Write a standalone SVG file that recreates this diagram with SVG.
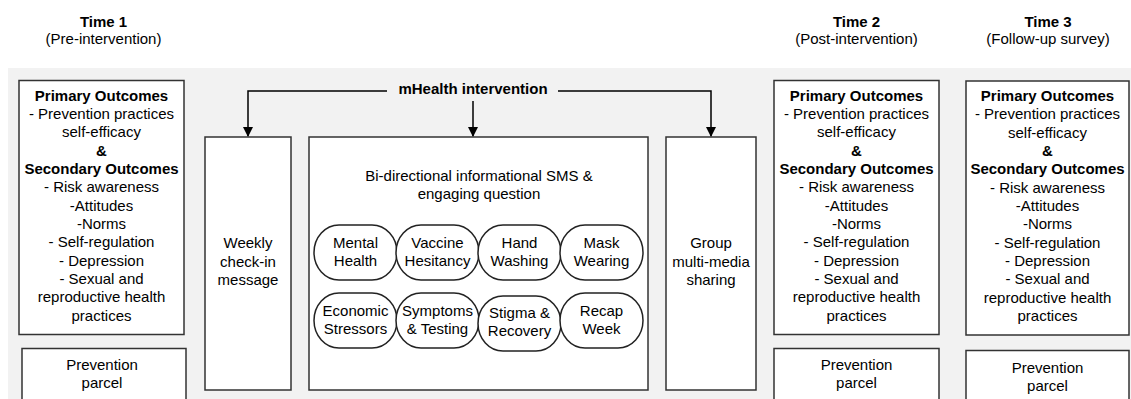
<svg xmlns="http://www.w3.org/2000/svg" width="1131" height="399" viewBox="0 0 1131 399">
<style>
text{font-family:"Liberation Sans",Arial,sans-serif;font-size:15px;fill:#000;text-anchor:middle}
.b{font-weight:bold}
.box{fill:#fff;stroke:#333;stroke-width:1.5}
.pill{fill:#fff;stroke:#222;stroke-width:1.5}
.conn{fill:none;stroke:#000;stroke-width:1.5}
</style>
<defs>
<marker id="ah" markerWidth="10" markerHeight="13" refX="9" refY="6.5" orient="auto" markerUnits="userSpaceOnUse"><path d="M0,1.5 L10,6.5 L0,11.5 Z" fill="#000"/></marker>
</defs>
<rect x="8" y="68" width="1123" height="331" fill="#f2f2f2"/>

<g id="header1"><text class="b" x="103.5" y="27">Time 1</text><text x="103.5" y="44">(Pre-intervention)</text></g>
<g id="header2"><text class="b" x="856.5" y="27">Time 2</text><text x="856.5" y="44">(Post-intervention)</text></g>
<g id="header3"><text class="b" x="1048" y="27">Time 3</text><text x="1048" y="44">(Follow-up survey)</text></g>

<g id="outcomes1">
<rect class="box" x="19" y="80.5" width="165" height="254"/>
<text class="b" x="101.5" y="100.5">Primary Outcomes</text>
<text x="101.5" y="118.8">- Prevention practices</text>
<text x="101.5" y="137.2">self-efficacy</text>
<text class="b" x="101.5" y="155.5">&amp;</text>
<text class="b" x="101.5" y="173.8">Secondary Outcomes</text>
<text x="101.5" y="192.2">- Risk awareness</text>
<text x="101.5" y="210.5">-Attitudes</text>
<text x="101.5" y="228.8">-Norms</text>
<text x="101.5" y="247.1">- Self-regulation</text>
<text x="101.5" y="265.5">- Depression</text>
<text x="101.5" y="283.8">- Sexual and</text>
<text x="101.5" y="302.1">reproductive health</text>
<text x="101.5" y="320.5">practices</text>
</g>
<g id="parcel1"><rect class="box" x="22" y="348.5" width="164" height="70"/><text x="102" y="370">Prevention</text><text x="102" y="388">parcel</text></g>

<g id="outcomes2">
<rect class="box" x="774" y="80.5" width="165" height="254"/>
<text class="b" x="856.5" y="100.5">Primary Outcomes</text>
<text x="856.5" y="118.8">- Prevention practices</text>
<text x="856.5" y="137.2">self-efficacy</text>
<text class="b" x="856.5" y="155.5">&amp;</text>
<text class="b" x="856.5" y="173.8">Secondary Outcomes</text>
<text x="856.5" y="192.2">- Risk awareness</text>
<text x="856.5" y="210.5">-Attitudes</text>
<text x="856.5" y="228.8">-Norms</text>
<text x="856.5" y="247.1">- Self-regulation</text>
<text x="856.5" y="265.5">- Depression</text>
<text x="856.5" y="283.8">- Sexual and</text>
<text x="856.5" y="302.1">reproductive health</text>
<text x="856.5" y="320.5">practices</text>
</g>
<g id="parcel2"><rect class="box" x="774" y="348.5" width="165" height="70"/><text x="856.5" y="370">Prevention</text><text x="856.5" y="388">parcel</text></g>

<g id="outcomes3">
<rect class="box" x="966" y="81" width="163" height="254"/>
<text class="b" x="1047.5" y="101">Primary Outcomes</text>
<text x="1047.5" y="119.3">- Prevention practices</text>
<text x="1047.5" y="137.7">self-efficacy</text>
<text class="b" x="1047.5" y="156">&amp;</text>
<text class="b" x="1047.5" y="174.3">Secondary Outcomes</text>
<text x="1047.5" y="192.7">- Risk awareness</text>
<text x="1047.5" y="211">-Attitudes</text>
<text x="1047.5" y="229.3">-Norms</text>
<text x="1047.5" y="247.6">- Self-regulation</text>
<text x="1047.5" y="266">- Depression</text>
<text x="1047.5" y="284.3">- Sexual and</text>
<text x="1047.5" y="302.6">reproductive health</text>
<text x="1047.5" y="321">practices</text>
</g>
<g id="parcel3"><rect class="box" x="966" y="350.5" width="163" height="70"/><text x="1047.5" y="372.5">Prevention</text><text x="1047.5" y="390.5">parcel</text></g>

<g id="mhealth"><text class="b" x="473" y="93.5">mHealth intervention</text></g>

<g id="weekly"><rect class="box" x="205" y="137" width="86" height="253"/><text x="248" y="248">Weekly</text><text x="248" y="266.5">check-in</text><text x="248" y="285">message</text></g>

<g id="sms">
<rect class="box" x="309" y="137" width="339" height="253"/>
<text x="479" y="181">Bi-directional informational SMS &amp;</text>
<text x="479" y="199">engaging question</text>
</g>
<g id="pill-mental"><rect class="pill" x="314" y="225" width="83" height="55" rx="25" ry="27.5"/><text x="355.5" y="247.5">Mental</text><text x="355.5" y="265.5">Health</text></g>
<g id="pill-vaccine"><rect class="pill" x="396" y="225" width="83" height="55" rx="25" ry="27.5"/><text x="437.5" y="247.5">Vaccine</text><text x="437.5" y="265.5">Hesitancy</text></g>
<g id="pill-hand"><rect class="pill" x="478" y="225" width="83" height="55" rx="25" ry="27.5"/><text x="519.5" y="247.5">Hand</text><text x="519.5" y="265.5">Washing</text></g>
<g id="pill-mask"><rect class="pill" x="560" y="225" width="83" height="55" rx="25" ry="27.5"/><text x="601.5" y="247.5">Mask</text><text x="601.5" y="265.5">Wearing</text></g>
<g id="pill-economic"><rect class="pill" x="314" y="293" width="83" height="55" rx="25" ry="27.5"/><text x="355.5" y="315.5">Economic</text><text x="355.5" y="333.5">Stressors</text></g>
<g id="pill-symptoms"><rect class="pill" x="396" y="293" width="83" height="55" rx="25" ry="27.5"/><text x="437.5" y="315.5">Symptoms</text><text x="437.5" y="333.5">&amp; Testing</text></g>
<g id="pill-stigma"><rect class="pill" x="478" y="296" width="83" height="55" rx="25" ry="27.5"/><text x="519.5" y="318">Stigma &amp;</text><text x="519.5" y="336">Recovery</text></g>
<g id="pill-recap"><rect class="pill" x="560" y="293" width="83" height="55" rx="25" ry="27.5"/><text x="601.5" y="315.5">Recap</text><text x="601.5" y="333.5">Week</text></g>

<g id="group"><rect class="box" x="666" y="137" width="90" height="253"/><text x="711" y="248">Group</text><text x="711" y="266.5">multi-media</text><text x="711" y="285">sharing</text></g>

<g id="connectors">
<path class="conn" d="M387,91 H248 V136" marker-end="url(#ah)"/>
<path class="conn" d="M473,101 V136" marker-end="url(#ah)"/>
<path class="conn" d="M558,91 H711 V136" marker-end="url(#ah)"/>
</g>
</svg>
